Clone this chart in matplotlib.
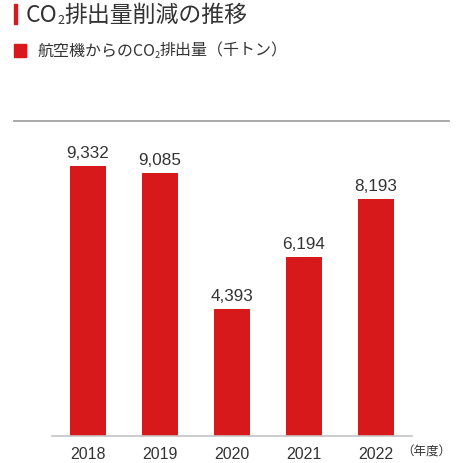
import matplotlib
matplotlib.use("Agg")
import matplotlib.pyplot as plt
from matplotlib.lines import Line2D
from matplotlib.patches import Rectangle

# data
years = ["2018", "2019", "2020", "2021", "2022"]
emissions = [9332, 9085, 4393, 6194, 8193]
value_labels = ["9,332", "9,085", "4,393", "6,194", "8,193"]

RED = "#d7191c"
TEXT = "#333333"
JP = ["Noto Sans CJK JP", "DejaVu Sans"]
NUM = ["Liberation Sans", "DejaVu Sans"]

fig = plt.figure(figsize=(4.63, 4.64), dpi=100)
W, H = 463, 464

def fx(px):
    return px / W

def fy(py):
    return 1 - py / H

ax = fig.add_axes([fx(52), fy(437), fx(412) - fx(52), fy(122) - fy(437)])
x = list(range(len(years)))
bars = ax.bar(x, emissions, width=0.49, color=RED, zorder=2)
ax.set_xlim(-0.5, 4.5)
ax.set_ylim(0, 10870)

for b, lab in zip(bars, value_labels):
    ax.annotate(lab, (b.get_x() + b.get_width() / 2, b.get_height()),
                xytext=(0, 4), textcoords="offset points",
                ha="center", va="bottom", fontsize=12.3,
                family=NUM, color=TEXT)

ax.set_xticks(x)
ax.set_xticklabels(years, family=NUM, fontsize=11.5, color=TEXT)
ax.tick_params(axis="x", length=0, pad=7)
ax.set_yticks([])
for s in ["top", "left", "right"]:
    ax.spines[s].set_visible(False)
ax.spines["bottom"].set_color("#c4c4c4")
ax.spines["bottom"].set_linewidth(1.2)

# unit label next to the last year
fig.text(fx(401), fy(452), "（年度）", family=JP, fontsize=9,
         color=TEXT, va="center", ha="left")

# grey rule under the heading
fig.add_artist(Line2D([fx(14), fx(449)], [fy(122), fy(122)],
                      color="#9a9a9a", lw=1.2))

# heading with red marker
fig.add_artist(Rectangle((fx(14), fy(25)), fx(3), fy(5) - fy(25),
                         color=RED, transform=fig.transFigure))
t1 = fig.text(fx(26), fy(15), "CO", family=JP, fontsize=16.5,
              color=TEXT, va="center", ha="left")
sub = ax.annotate("2", xy=(1, 0.12), xycoords=t1, xytext=(-0.5, 0),
                  textcoords="offset points", family=JP, fontsize=9,
                  color=TEXT, va="baseline", ha="left",
                  annotation_clip=False)
ax.annotate("排出量削減の推移", xy=(1, 0), xycoords=sub,
            xytext=(0.5, 0), textcoords="offset points", family=JP,
            fontsize=16.5, color=TEXT, va="bottom", ha="left",
            annotation_clip=False)

# legend line
fig.add_artist(Rectangle((fx(14), fy(58)), fx(12), fy(45) - fy(58),
                         color=RED, transform=fig.transFigure))
l1 = fig.text(fx(37), fy(51.5), "航空機からのCO", family=JP,
              fontsize=11.5, color=TEXT, va="center", ha="left")
lsub = ax.annotate("2", xy=(1, 0.12), xycoords=l1, xytext=(-0.3, 0),
                   textcoords="offset points", family=JP, fontsize=6.5,
                   color=TEXT, va="baseline", ha="left",
                   annotation_clip=False)
ax.annotate("排出量（千トン）", xy=(1, 0), xycoords=lsub,
            xytext=(0.3, 0), textcoords="offset points", family=JP,
            fontsize=11.5, color=TEXT, va="bottom", ha="left",
            annotation_clip=False)

fig.savefig("out.png", dpi=100)
